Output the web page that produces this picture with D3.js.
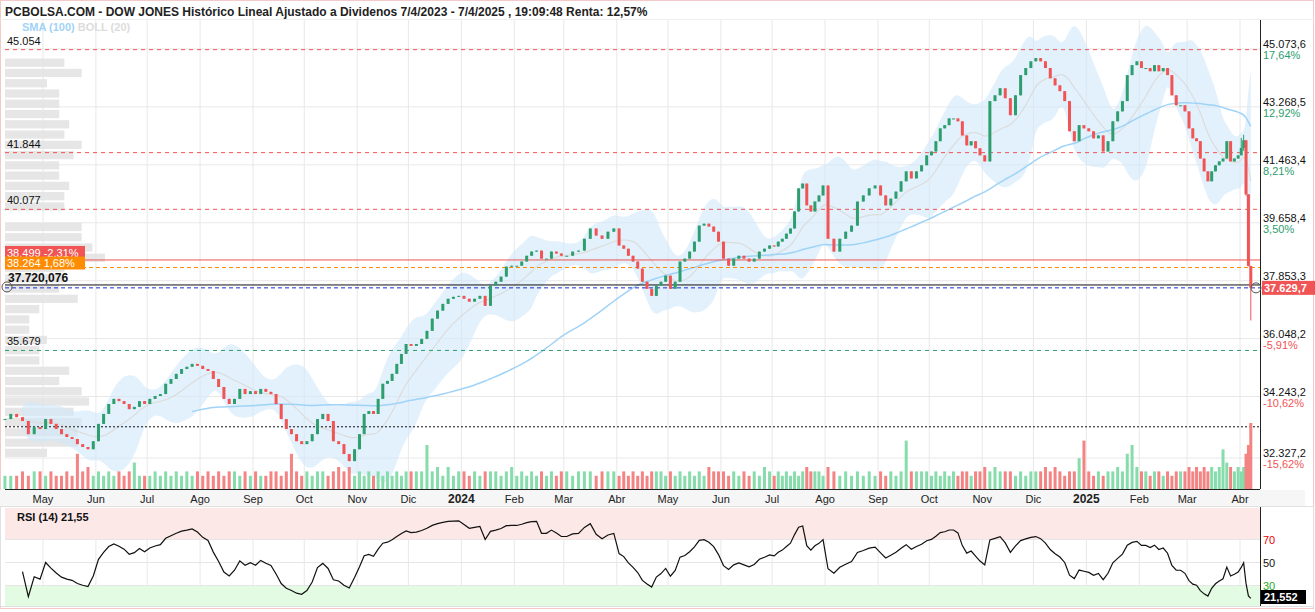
<!DOCTYPE html>
<html><head><meta charset="utf-8">
<script src="https://cdn.jsdelivr.net/npm/d3@7"></script>
<style>body{margin:0;background:#fff;font-family:"Liberation Sans",Arial,sans-serif}</style>
</head><body><svg id="c" width="1315" height="612"></svg>
<script>
// ---- DATA (closes, one array per month) ----
const apr23=[33540,33700,33600,33480,33070,33290,33230];
const may23=[33540,33390,33230,33070,32980,32920,32760,32670,32600,32850];
const jun23=[33390,33700,34010,34170,34100,34010,33850,33920,34100,34010];
const jul23=[34170,34260,34320,34640,34790,34950,35100,35170,35260,35200];
const ago23=[35100,35040,34790,34540,34170,34010,34170,34480,34320,34410];
const sep23=[34320,34480,34390,34320,34010,33540,33230,33070,32850,32760];
const oct23=[32850,33070,33540,33700,33480,32850,32760,32450,32230,32600];
const nov23=[33070,33700,33790,33700,34170,34640,34730,34950,35260,35570,35880];
const dic23=[35820,35880,36040,36290,36670,36920,37130,37290,37350,37380];
const ene24=[37290,37200,37290,37380,37070,37700,37820,37980,38290,38320];
const feb24=[38320,38450,38630,38760,38790,38540,38540,38760,38700,38630];
const mar24=[38630,38760,38790,39160,39480,39260,39160,39380,39480];
const abr24=[38950,38850,38630,38450,38230,37820,37600,37380,37700,37820,38010];
const may24=[37600,37820,38450,38540,38760,39070,39570,39630,39540,39380,39070];
const jun24=[38540,38320,38540,38630,38540,38450,38540,38760,38850,38950];
const jul24=[38920,39070,39160,39320,39480,40010,40730,40880,40200,40010,40320,40510,40820];
const ago24=[39160,38760,39160,39380,39570,40320,40510,40730,40820];
const sep24=[40510,40200,40410,40630,40950,41260,41040,41260,41450,41760];
const oct24=[41880,42200,42600,42700,42910,42910,42820,42380,42070,42200,41980,41760];
const nov24=[41570,43450,43630,43850,43540,43010,43630,44260,44480,44690];
const dic24=[44790,44690,44480,44160,43940,43760,43450,42510,42200,42700,42600];
const ene25=[42510,42290,42380,41880,42200,42820,43130,43450,44260,44570,44690];
const feb25=[44480,44480,44380,44570,44380,44480,44260,43630,43320,43320,43130];
const mar25=[42600,42290,42200,41660,41260,40950,41260,41450,41570,41660,42200,41570,41660,41760];
const abr25=[41990,42230,40545,38314,37630];
const monthCloses=[apr23,may23,jun23,jul23,ago23,sep23,oct23,nov23,dic23,ene24,feb24,mar24,abr24,may24,jun24,jul24,ago24,sep24,oct24,nov24,dic24,ene25,feb25,mar25,abr25];
const monthStarts=["2023-04-07","2023-05-01","2023-06-01","2023-07-01","2023-08-01","2023-09-01","2023-10-01","2023-11-01","2023-12-01","2024-01-01","2024-02-01","2024-03-01","2024-04-01","2024-05-01","2024-06-01","2024-07-01","2024-08-01","2024-09-01","2024-10-01","2024-11-01","2024-12-01","2025-01-01","2025-02-01","2025-03-01","2025-04-01","2025-04-08"];
// relative volume per candle, one hex digit each
const volumeDigits=["3334344","3433438453","4343434633","3434343434","3434344343","4334434843","4344345453","43434343434","444A453534","4343444345","3434343434","434443444","34343434443","43434343544","4343434354","3434343454443","543434343","43434B4444","343434344344","5454443434","4454543447B","434344548A5","44344343444","54545454596545","458AF"];
const lastHighs=[42300,42400,42000,40080,38100];
const lastLows=[41800,41900,40500,38300,36611];
const monthLabels=["May","Jun","Jul","Ago","Sep","Oct","Nov","Dic","2024","Feb","Mar","Abr","May","Jun","Jul","Ago","Sep","Oct","Nov","Dic","2025","Feb","Mar","Abr"];
const priceTicks=[45073.6,43268.5,41463.4,39658.4,37853.3,36048.2,34243.2,32327.2];
const pctTicks=["17,64%","12,92%","8,21%","3,50%","","-5,91%","-10,62%","-15,62%"];
const levelLines=[{v:45054,l:"45.054",c:"#f05454"},{v:41844,l:"41.844",c:"#f05454"},{v:40077,l:"40.077",c:"#f05454"},{v:35679,l:"35.679",c:"#2e9e6e"}];
const lastPrice=37629.7, rsiLast="21,552";

// ---- BUILD ----
const parse=d3.utcParse("%Y-%m-%d");
const rows=[];
monthCloses.forEach((arr,m)=>{
  const s=parse(monthStarts[m]).getTime(), e=parse(monthStarts[m+1]).getTime();
  arr.forEach((c,i)=>rows.push({date:new Date(s+(i+0.5)/arr.length*(e-s)),close:c,vol:parseInt(volumeDigits[m][i]||"3",16)}));
});
rows.forEach((r,i)=>{r.open=i?rows[i-1].close:r.close;r.high=Math.max(r.open,r.close);r.low=Math.min(r.open,r.close);});
const n=rows.length;
for(let k=0;k<5;k++){rows[n-5+k].high=Math.max(rows[n-5+k].high,lastHighs[k]);rows[n-5+k].low=Math.min(rows[n-5+k].low,lastLows[k]);}

const svg=d3.select("#c");
const x=d3.scaleUtc().domain([parse("2023-04-07"),parse("2025-04-08")]).range([2,1252]);
const y=d3.scaleLinear().domain([32327.2,45073.6]).range([458,49]);
const yr=d3.scaleLinear().domain([0,100]).range([620,505]);
const yv=d3.scaleLinear().domain([0,10]).range([0,44]);
const PR=1260, VB=489;

// frame / header
svg.append("rect").attr("x",0.5).attr("y",0.5).attr("width",1313).attr("height",608).attr("fill","none").attr("stroke","#f3c9c9");
svg.append("text").attr("x",5).attr("y",16).attr("font-size",12).attr("font-weight","bold").attr("fill","#222")
 .text("PCBOLSA.COM - DOW JONES Histórico Lineal Ajustado a Dividenos 7/4/2023 - 7/4/2025 , 19:09:48 Renta: 12,57%");
svg.append("line").attr("x1",0).attr("x2",1315).attr("y1",19.5).attr("y2",19.5).attr("stroke","#eee");

// grid
const monthDates=monthStarts.slice(1,25).map(parse);
svg.append("g").selectAll("line").data(monthDates).join("line").attr("x1",d=>x(d)).attr("x2",d=>x(d)).attr("y1",20).attr("y2",VB).attr("stroke","#e8e8e8");
svg.append("g").selectAll("line").data(monthDates).join("line").attr("x1",d=>x(d)).attr("x2",d=>x(d)).attr("y1",508).attr("y2",606).attr("stroke","#e8e8e8");
svg.append("g").selectAll("line").data(priceTicks).join("line").attr("x1",5).attr("x2",PR).attr("y1",d=>y(d)).attr("y2",d=>y(d)).attr("stroke","#e8e8e8");

// volume profile (histogram of closes)
const bins=d3.bin().domain([32327.2,45073.6]).thresholds(d3.range(32327.2,45073.6,320))(rows.map(r=>r.close));
const maxB=d3.max(bins,b=>b.length);
svg.append("g").selectAll("rect").data(bins).join("rect").attr("x",5).attr("y",b=>y(b.x1)+1).attr("height",b=>Math.max(0,y(b.x0)-y(b.x1)-2))
 .attr("width",b=>Math.sqrt(b.length/maxB)*100).attr("fill","#e2e2e2").attr("opacity",0.85);

// bollinger (window 10 on half-density data ≈ 20 sessions)
const W=10, boll=[];
for(let i=0;i<n;i++){const s=rows.slice(Math.max(0,i-W+1),i+1).map(r=>r.close);const m=d3.mean(s),sd=d3.deviation(s)||0;boll.push({date:rows[i].date,m,u:m+2*sd+150,l:m-2*sd-150});}
svg.append("path").datum(boll.slice(3)).attr("d",d3.area().x(d=>x(d.date)).y0(d=>y(d.l)).y1(d=>y(d.u)).curve(d3.curveBasis)).attr("fill","#cfe8fa").attr("opacity",0.6);
svg.append("path").datum(boll.slice(3)).attr("d",d3.line().x(d=>x(d.date)).y(d=>y(d.m)).curve(d3.curveBasis)).attr("fill","none").attr("stroke","#dcdcdc").attr("stroke-width",1.2);
// SMA (window 50 ≈ 100 sessions)
const sma=[];for(let i=35;i<n;i++){const s=rows.slice(Math.max(0,i-49),i+1);sma.push({date:rows[i].date,v:d3.mean(s,r=>r.close)});}
svg.append("path").datum(sma).attr("d",d3.line().x(d=>x(d.date)).y(d=>y(d.v)).curve(d3.curveBasis)).attr("fill","none").attr("stroke","#9fd3f7").attr("stroke-width",1.5);

// level lines
levelLines.forEach(L=>{
 svg.append("line").attr("x1",5).attr("x2",PR).attr("y1",y(L.v)).attr("y2",y(L.v)).attr("stroke",L.c).attr("stroke-dasharray","4,4");
 svg.append("text").attr("x",7).attr("y",y(L.v)-5).attr("font-size",11).attr("fill","#111").text(L.l);
});
svg.append("line").attr("x1",5).attr("x2",PR).attr("y1",y(33300)).attr("y2",y(33300)).attr("stroke","#111").attr("stroke-dasharray","2,2");
svg.append("line").attr("x1",5).attr("x2",PR).attr("y1",y(38499)).attr("y2",y(38499)).attr("stroke","#f05454");
svg.append("line").attr("x1",5).attr("x2",PR).attr("y1",y(38264)).attr("y2",y(38264)).attr("stroke","#ff8c00").attr("stroke-dasharray","4,3");
svg.append("line").attr("x1",5).attr("x2",PR).attr("y1",y(37720)).attr("y2",y(37720)).attr("stroke","#111");
svg.append("line").attr("x1",5).attr("x2",PR).attr("y1",y(lastPrice)).attr("y2",y(lastPrice)).attr("stroke","#1a2bd8").attr("stroke-dasharray","4,3");

// volume
svg.append("g").selectAll("rect").data(rows).join("rect").attr("x",d=>x(d.date)-1.5).attr("width",3)
 .attr("y",d=>VB-yv(d.vol)).attr("height",d=>yv(d.vol)).attr("fill",d=>d.close>=d.open?"#86dcab":"#f48383");

// candles
const cg=svg.append("g");
cg.selectAll("line").data(rows).join("line").attr("x1",d=>x(d.date)).attr("x2",d=>x(d.date)).attr("y1",d=>y(d.high)).attr("y2",d=>y(d.low))
 .attr("stroke",d=>d.close>=d.open?"#2e9e6e":"#f05454");
cg.selectAll("rect").data(rows).join("rect").attr("x",d=>x(d.date)-1.5).attr("width",3)
 .attr("y",d=>y(Math.max(d.open,d.close))).attr("height",d=>Math.max(1,Math.abs(y(d.open)-y(d.close))))
 .attr("fill",d=>d.close>=d.open?"#2e9e6e":"#f05454");

// legend
const lg=svg.append("text").attr("x",22).attr("y",31).attr("font-size",11).attr("font-weight","bold");
lg.append("tspan").attr("fill","#9fd3f7").text("SMA (100) ");lg.append("tspan").attr("fill","#dcdcdc").text("BOLL (20)");

// left boxes
svg.append("rect").attr("x",5).attr("y",y(38499)-14).attr("width",80).attr("height",14).attr("fill","#f05454");
svg.append("text").attr("x",7).attr("y",y(38499)-3).attr("font-size",11).attr("fill","#fff").text("38.499 -2,31%");
svg.append("rect").attr("x",5).attr("y",y(38264)-11).attr("width",80).attr("height",13).attr("fill","#ff8c00");
svg.append("text").attr("x",7).attr("y",y(38264)-0.5).attr("font-size",11).attr("fill","#fff").text("38.264  1,68%");
svg.append("text").attr("x",8).attr("y",y(37720)-3).attr("font-size",12).attr("font-weight","bold").attr("fill","#111").text("37.720,076");
svg.append("circle").attr("cx",7).attr("cy",y(37720)+2).attr("r",5).attr("fill","none").attr("stroke","#555");

// right axis
svg.append("line").attr("x1",PR+0.5).attr("x2",PR+0.5).attr("y1",20).attr("y2",VB).attr("stroke","#222");
priceTicks.forEach((v,i)=>{
 svg.append("text").attr("x",1263).attr("y",y(v)-1).attr("font-size",11).attr("fill","#111").text(d3.format(",.1f")(v).replace(/,/g,"#").replace(".",",").replace(/#/g,"."));
 svg.append("text").attr("x",1263).attr("y",y(v)+10).attr("font-size",11).attr("fill",i<4?"#2e9e6e":"#f05454").text(pctTicks[i]);
});
svg.append("rect").attr("x",1262).attr("y",y(lastPrice)-7).attr("width",53).attr("height",14).attr("fill","#f05454");
svg.append("text").attr("x",1264).attr("y",y(lastPrice)+4).attr("font-size",11).attr("font-weight","bold").attr("fill","#fff").text("37.629,7");
svg.append("circle").attr("cx",1256).attr("cy",y(lastPrice)).attr("r",5).attr("fill","none").attr("stroke","#555");

// date axis
svg.append("rect").attr("x",0).attr("y",VB+1).attr("width",1305).attr("height",17).attr("fill","#f6f6f6");
svg.append("line").attr("x1",5).attr("x2",PR).attr("y1",VB+0.5).attr("y2",VB+0.5).attr("stroke","#222");
svg.append("g").selectAll("text").data(monthDates).join("text").attr("x",d=>x(d)).attr("y",503).attr("text-anchor","middle")
 .attr("font-size",d=>/^20/.test(monthLabels[monthDates.indexOf(d)])?12:11).attr("font-weight",d=>/^20/.test(monthLabels[monthDates.indexOf(d)])?"bold":"normal")
 .attr("fill","#222").text((d,i)=>monthLabels[i]);

// RSI panel
svg.append("rect").attr("x",5).attr("y",508).attr("width",1255).attr("height",yr(70)-508).attr("fill","#fde8e8");
svg.append("rect").attr("x",5).attr("y",yr(30)).attr("width",1255).attr("height",606-yr(30)).attr("fill","#e2fbe2");
[70,50,30].forEach(v=>svg.append("line").attr("x1",5).attr("x2",PR).attr("y1",yr(v)).attr("y2",yr(v)).attr("stroke","#e6e6e6"));
const P=12,rsi=[];let ag=0,al=0;
for(let i=1;i<n;i++){const ch=rows[i].close-rows[i-1].close,g=Math.max(ch,0),l=Math.max(-ch,0);
 if(i<=P){ag+=g/P;al+=l/P;}else{ag=(ag*(P-1)+g)/P;al=(al*(P-1)+l)/P;}
 if(i>=3)rsi.push({date:rows[i].date,v:al===0?100:100-100/(1+ag/al)});}
svg.append("path").datum(rsi).attr("d",d3.line().x(d=>x(d.date)).y(d=>yr(Math.max(18,Math.min(92,d.v))))).attr("fill","none").attr("stroke","#111").attr("stroke-width",1.2);
svg.append("line").attr("x1",PR+0.5).attr("x2",PR+0.5).attr("y1",507).attr("y2",606).attr("stroke","#222");
[[70,"#e00"],[50,"#111"],[30,"#2a2"]].forEach(([v,c])=>svg.append("text").attr("x",1263).attr("y",yr(v)+4).attr("font-size",11).attr("fill",c).text(v));
svg.append("rect").attr("x",1261).attr("y",590).attr("width",45).attr("height",14).attr("fill","#000");
svg.append("text").attr("x",1264).attr("y",601).attr("font-size",11).attr("font-weight","bold").attr("fill","#fff").text(rsiLast);
svg.append("text").attr("x",17).attr("y",521).attr("font-size",11).attr("font-weight","bold").attr("fill","#111").text("RSI (14)   21,55");
svg.append("rect").attr("x",0.5).attr("y",506.5).attr("width",1313).attr("height",100).attr("fill","none").attr("stroke","#e0e0e0");
</script></body></html>
